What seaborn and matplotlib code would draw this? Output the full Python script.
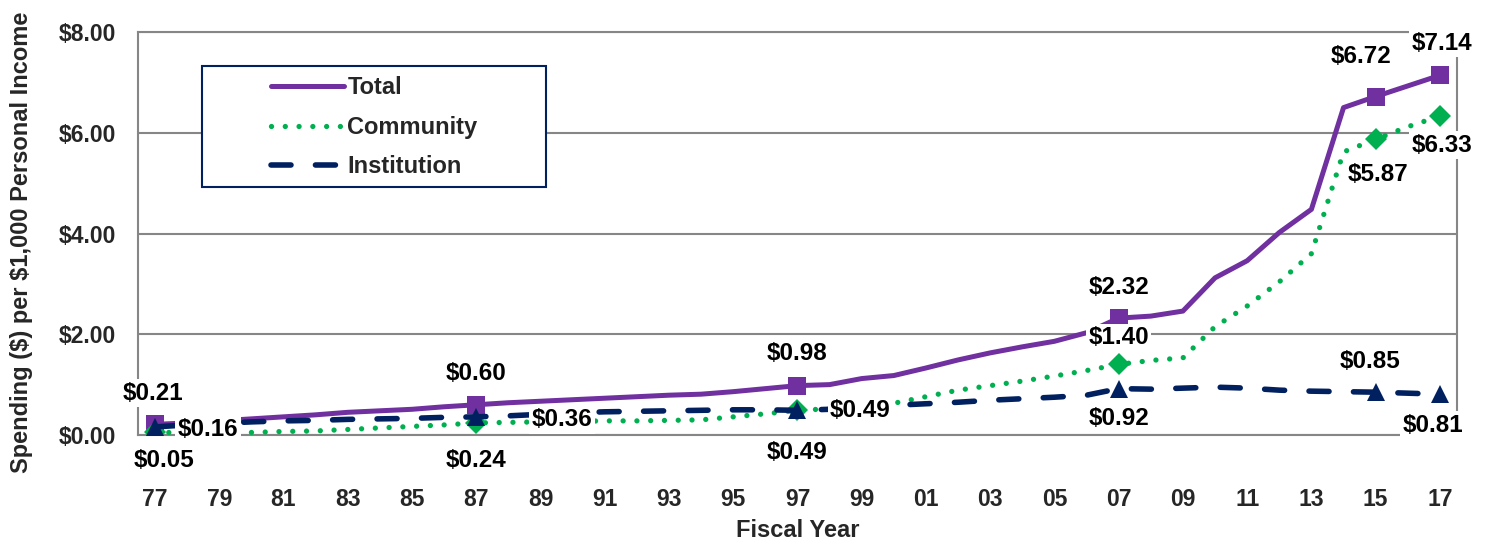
import pandas as pd
import seaborn as sns
import matplotlib.pyplot as plt
from matplotlib.lines import Line2D
from matplotlib.patches import Rectangle

# Datos: gasto por $1,000 de ingreso personal, años fiscales 1977-2017
years = list(range(1977, 2018))
total = [0.21, 0.24, 0.28, 0.32, 0.36, 0.40, 0.45, 0.48, 0.51, 0.56,
         0.60, 0.64, 0.67, 0.70, 0.73, 0.76, 0.79, 0.81, 0.86, 0.92,
         0.98, 1.00, 1.12, 1.18, 1.33, 1.49, 1.63, 1.75, 1.86, 2.03,
         2.32, 2.36, 2.46, 3.12, 3.46, 4.02, 4.48, 6.50, 6.72, 6.93,
         7.14]
community = [0.05, 0.05, 0.05, 0.05, 0.07, 0.08, 0.11, 0.14, 0.17, 0.20,
             0.24, 0.25, 0.26, 0.27, 0.28, 0.28, 0.29, 0.30, 0.36, 0.42,
             0.49, 0.52, 0.56, 0.63, 0.76, 0.89, 0.98, 1.07, 1.17, 1.28,
             1.40, 1.48, 1.53, 2.15, 2.56, 3.04, 3.60, 5.62, 5.87, 6.12,
             6.33]
institution = [0.16, 0.20, 0.23, 0.26, 0.28, 0.29, 0.31, 0.32, 0.33, 0.35,
               0.36, 0.38, 0.41, 0.44, 0.46, 0.47, 0.48, 0.49, 0.50, 0.50,
               0.49, 0.51, 0.54, 0.59, 0.62, 0.65, 0.69, 0.72, 0.75, 0.79,
               0.92, 0.91, 0.93, 0.95, 0.93, 0.89, 0.87, 0.86, 0.85, 0.83,
               0.81]
marked_years = [1977, 1987, 1997, 2007, 2015, 2017]
tick_years = list(range(1977, 2018, 2))
y_ticks = [0, 2, 4, 6, 8]

datos = pd.DataFrame({'year': years, 'Total': total,
                      'Community': community, 'Institution': institution})

colores = {'Total': '#7030A0', 'Community': '#00B050', 'Institution': '#002060'}
estilo_com = (0, (0.01, 2.6))
estilo_inst = (0, (3.6, 4.4))

sns.set_style("white")
plt.rcParams['font.family'] = ['Liberation Sans', 'DejaVu Sans']
plt.rcParams['font.weight'] = 'bold'

fig = plt.figure(figsize=(14.9, 5.44), dpi=100)
ax = fig.add_axes([0.0926, 0.2004, 0.8852, 0.7407])

idx_marcas = [years.index(y) for y in marked_years]

sns.lineplot(data=datos, x='year', y='Total', ax=ax, color=colores['Total'],
             linewidth=3.6, marker='s', markersize=13, markevery=idx_marcas,
             markeredgewidth=0, zorder=3)
sns.lineplot(data=datos, x='year', y='Community', ax=ax, color=colores['Community'],
             linewidth=3.8, linestyle=estilo_com, dash_capstyle='round',
             marker='D', markersize=11, markevery=idx_marcas,
             markeredgewidth=0, zorder=3)
sns.lineplot(data=datos, x='year', y='Institution', ax=ax, color=colores['Institution'],
             linewidth=4.0, linestyle=estilo_inst, dash_capstyle='round',
             marker='^', markersize=13, markevery=idx_marcas,
             markeredgewidth=0, zorder=3)

# Ejes
ax.set_xlim(1976.47, 2017.53)
ax.set_ylim(0, 8)
ax.set_xticks(tick_years)
ax.set_xticklabels([f"{y % 100:02d}" for y in tick_years], fontsize=16.5, fontweight='bold')
ax.set_yticks(y_ticks)
ax.set_yticklabels([f"\\${v:.2f}" for v in y_ticks], fontsize=16.5, fontweight='bold')
ax.tick_params(axis='x', length=0, pad=38)
ax.tick_params(axis='y', length=0, pad=16)
ax.yaxis.grid(True, color='#868686', linewidth=1.5)
ax.set_axisbelow(True)
for lado in ax.spines.values():
    lado.set_color('#868686')
    lado.set_linewidth(1.5)

ax.set_xlabel('Fiscal Year', fontsize=17, fontweight='bold', labelpad=6)
ax.set_ylabel('Spending (\\$) per \\$1,000 Personal Income', fontsize=17,
              fontweight='bold')
ax.yaxis.set_label_coords(-0.0795, 0.478)

# Etiquetas de datos (desplazamiento en píxeles)
offsets = {
    'Total':       [(-2, 31), (0, 31), (0, 32), (0, 31), (-15, 40), (2, 32)],
    'Community':   [(9, -28), (0, -38), (0, -42), (0, 27), (2, -35), (2, -29)],
    'Institution': [(53, -3), (86, -3), (63, 0), (0, -30), (-6, 31), (-7, -31)],
}
for serie, desp in offsets.items():
    for i, d in zip(idx_marcas, desp):
        v = datos[serie].iloc[i]
        ax.annotate(f"\\${v:.2f}", xy=(years[i], v), xytext=d,
                    textcoords='offset pixels', ha='center', va='center',
                    fontsize=17.5, fontweight='bold', color='black',
                    bbox=dict(boxstyle='square,pad=0.1', fc='white', ec='none'),
                    zorder=5, annotation_clip=False)

# Leyenda
ax.add_patch(Rectangle((0.0485, 0.615), 0.261, 0.3, transform=ax.transAxes,
                       facecolor='white', edgecolor='#002060', linewidth=1.5, zorder=4))
handles = [
    Line2D([], [], color=colores['Total'], linewidth=3.6, solid_capstyle='round'),
    Line2D([], [], color=colores['Community'], linewidth=3.8,
           linestyle=estilo_com, dash_capstyle='round'),
    Line2D([], [], color=colores['Institution'], linewidth=4.0,
           linestyle=estilo_inst, dash_capstyle='round'),
]
leg = ax.legend(handles, ['Total', 'Community', 'Institution'],
                loc='upper left', bbox_to_anchor=(0.097, 0.902), frameon=False,
                fontsize=17, handlelength=3.1, handletextpad=0.15,
                labelspacing=0.7, borderpad=0.2, borderaxespad=0)
leg.set_zorder(6)

plt.savefig('out.png', dpi=100)
plt.close()
